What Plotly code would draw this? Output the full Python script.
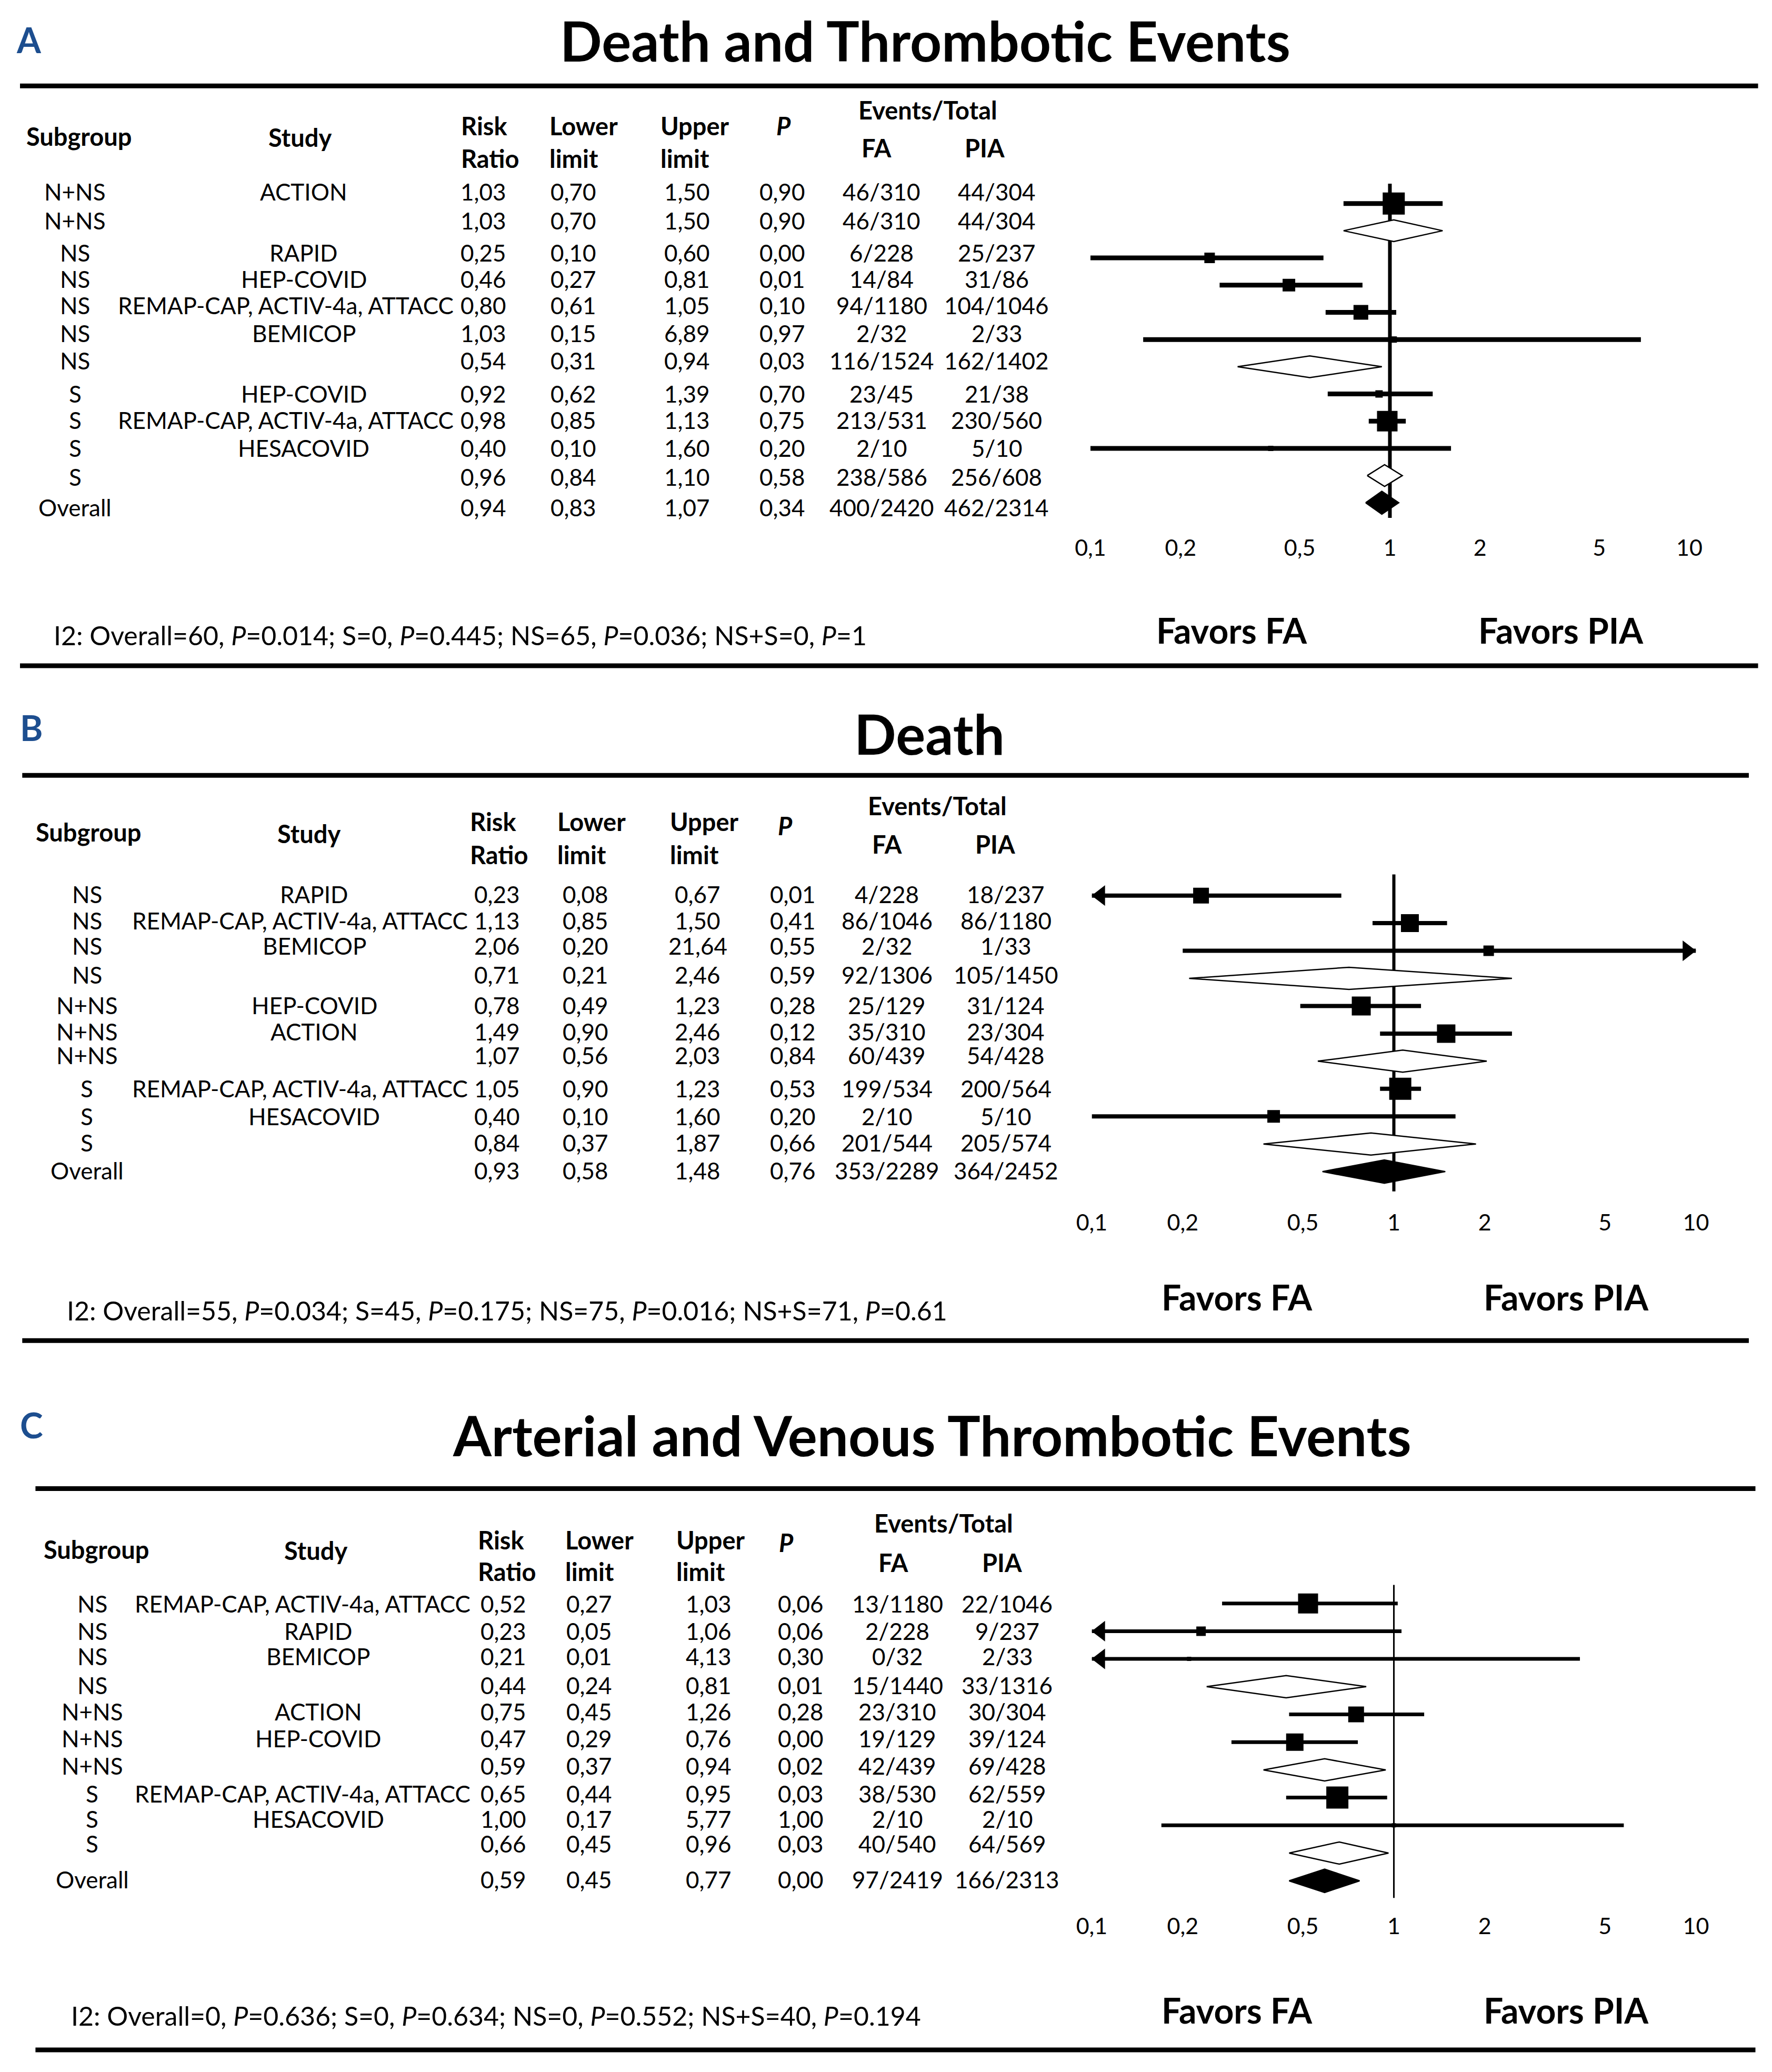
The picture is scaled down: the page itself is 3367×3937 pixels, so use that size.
import plotly.graph_objects as go

# ---------------- data ----------------
# Panel A: Death and Thrombotic Events
a_subgroup = ["N+NS", "N+NS", "NS", "NS", "NS", "NS", "NS", "S", "S", "S", "S", "Overall"]
a_study = ["ACTION", "", "RAPID", "HEP-COVID", "REMAP-CAP, ACTIV-4a, ATTACC", "BEMICOP", "",
           "HEP-COVID", "REMAP-CAP, ACTIV-4a, ATTACC", "HESACOVID", "", ""]
a_rr = [1.03, 1.03, 0.25, 0.46, 0.80, 1.03, 0.54, 0.92, 0.98, 0.40, 0.96, 0.94]
a_lo = [0.70, 0.70, 0.10, 0.27, 0.61, 0.15, 0.31, 0.62, 0.85, 0.10, 0.84, 0.83]
a_hi = [1.50, 1.50, 0.60, 0.81, 1.05, 6.89, 0.94, 1.39, 1.13, 1.60, 1.10, 1.07]
a_p = [0.90, 0.90, 0.00, 0.01, 0.10, 0.97, 0.03, 0.70, 0.75, 0.20, 0.58, 0.34]
a_fa = ["46/310", "46/310", "6/228", "14/84", "94/1180", "2/32", "116/1524", "23/45", "213/531",
        "2/10", "238/586", "400/2420"]
a_pia = ["44/304", "44/304", "25/237", "31/86", "104/1046", "2/33", "162/1402", "21/38", "230/560",
         "5/10", "256/608", "462/2314"]
a_i2 = "I2: Overall=60, <i>P</i>=0.014; S=0, <i>P</i>=0.445; NS=65, <i>P</i>=0.036; NS+S=0, <i>P</i>=1"

# Panel B: Death
b_subgroup = ["NS", "NS", "NS", "NS", "N+NS", "N+NS", "N+NS", "S", "S", "S", "Overall"]
b_study = ["RAPID", "REMAP-CAP, ACTIV-4a, ATTACC", "BEMICOP", "", "HEP-COVID", "ACTION", "",
           "REMAP-CAP, ACTIV-4a, ATTACC", "HESACOVID", "", ""]
b_rr = [0.23, 1.13, 2.06, 0.71, 0.78, 1.49, 1.07, 1.05, 0.40, 0.84, 0.93]
b_lo = [0.08, 0.85, 0.20, 0.21, 0.49, 0.90, 0.56, 0.90, 0.10, 0.37, 0.58]
b_hi = [0.67, 1.50, 21.64, 2.46, 1.23, 2.46, 2.03, 1.23, 1.60, 1.87, 1.48]
b_p = [0.01, 0.41, 0.55, 0.59, 0.28, 0.12, 0.84, 0.53, 0.20, 0.66, 0.76]
b_fa = ["4/228", "86/1046", "2/32", "92/1306", "25/129", "35/310", "60/439", "199/534", "2/10",
        "201/544", "353/2289"]
b_pia = ["18/237", "86/1180", "1/33", "105/1450", "31/124", "23/304", "54/428", "200/564", "5/10",
         "205/574", "364/2452"]
b_i2 = "I2: Overall=55, <i>P</i>=0.034; S=45, <i>P</i>=0.175; NS=75, <i>P</i>=0.016; NS+S=71, <i>P</i>=0.61"

# Panel C: Arterial and Venous Thrombotic Events
c_subgroup = ["NS", "NS", "NS", "NS", "N+NS", "N+NS", "N+NS", "S", "S", "S", "Overall"]
c_study = ["REMAP-CAP, ACTIV-4a, ATTACC", "RAPID", "BEMICOP", "", "ACTION", "HEP-COVID", "",
           "REMAP-CAP, ACTIV-4a, ATTACC", "HESACOVID", "", ""]
c_rr = [0.52, 0.23, 0.21, 0.44, 0.75, 0.47, 0.59, 0.65, 1.00, 0.66, 0.59]
c_lo = [0.27, 0.05, 0.01, 0.24, 0.45, 0.29, 0.37, 0.44, 0.17, 0.45, 0.45]
c_hi = [1.03, 1.06, 4.13, 0.81, 1.26, 0.76, 0.94, 0.95, 5.77, 0.96, 0.77]
c_p = [0.06, 0.06, 0.30, 0.01, 0.28, 0.00, 0.02, 0.03, 1.00, 0.03, 0.00]
c_fa = ["13/1180", "2/228", "0/32", "15/1440", "23/310", "19/129", "42/439", "38/530", "2/10",
        "40/540", "97/2419"]
c_pia = ["22/1046", "9/237", "2/33", "33/1316", "30/304", "39/124", "69/428", "62/559", "2/10",
         "64/569", "166/2313"]
c_i2 = "I2: Overall=0, <i>P</i>=0.636; S=0, <i>P</i>=0.634; NS=0, <i>P</i>=0.552; NS+S=40, <i>P</i>=0.194"

titles = ["Death and Thrombotic Events", "Death", "Arterial and Venous Thrombotic Events"]
letters = ["A", "B", "C"]
tick_vals = [0.1, 0.2, 0.5, 1, 2, 5, 10]
tick_text = ["0,1", "0,2", "0,5", "1", "2", "5", "10"]

# ---------------- style / layout (grid units of a 1344 x 1572 sheet) ----------------
W, H = 3367, 3937
GW, GH = 1344, 1572
FONT = "Lato"
S_BODY, S_HEAD, S_I2, S_TITLE, S_LET, S_FAV, S_TICK = 44, 47, 50, 105, 66, 66, 43
LET_COLOR = "#1d4e8f"
# calibration of the sheet grid onto the rendered page
CX0, CXS, CY0, CYS = 15.3, 0.981, 3.1, 0.998

# square sizes (px) for study rows
a_sq = [42, 0, 20, 24, 28, 12, 0, 14, 39, 10, 0, 0]
b_sq = [30, 34, 20, 0, 36, 35, 0, 42, 24, 0, 0]
c_sq = [38, 18, 8, 0, 30, 33, 0, 42, 8, 0, 0]

panels = [
    dict(sub=a_subgroup, study=a_study, rr=a_rr, lo=a_lo, hi=a_hi, p=a_p, fa=a_fa, pia=a_pia, i2=a_i2, sq=a_sq,
         let=(22, 30), title=(700, 30), rules=(15, 1330, 65, 504),
         h_sub=(60, 103), h_study=(227, 104), h_y=(95, 120), h_left=(348, 415, 499), h_p=(593, 95),
         h_ev=(702, 83), h_fapia=(663, 745, 112),
         cols=(57, 230, 366, 434, 520, 592, 667, 754), long_right=344,
         rows=[145, 167, 191, 211, 231, 252, 273, 298, 318, 339, 361, 384],
         fx=(825, 1278), row0=154, step=20.6, dom=(130, 403), vl=(139, 392), vlw=7, ciw=9,
         fav=(932, 1181, 477), i2pos=(40, 481)),
    dict(sub=b_subgroup, study=b_study, rr=b_rr, lo=b_lo, hi=b_hi, p=b_p, fa=b_fa, pia=b_pia, i2=b_i2, sq=b_sq,
         let=(24, 551), title=(703, 555), rules=(17, 1323, 587, 1015),
         h_sub=(67, 630), h_study=(234, 631), h_y=(622, 647), h_left=(355, 421, 506), h_p=(594, 625),
         h_ev=(709, 610), h_fapia=(671, 753, 639),
         cols=(66, 238, 376, 443, 528, 600, 671, 761), long_right=355,
         rows=[677, 697, 716, 738, 761, 781, 799, 824, 845, 865, 886],
         fx=(826, 1283), row0=678, step=20.9, dom=(655, 914), vl=(662, 902), vlw=6, ciw=8,
         fav=(936, 1185, 982), i2pos=(50, 992)),
    dict(sub=c_subgroup, study=c_study, rr=c_rr, lo=c_lo, hi=c_hi, p=c_p, fa=c_fa, pia=c_pia, i2=c_i2, sq=c_sq,
         let=(24, 1079), title=(705, 1086), rules=(27, 1328, 1127, 1552),
         h_sub=(73, 1173), h_study=(239, 1174), h_y=(1166, 1190), h_left=(361, 427, 511), h_p=(595, 1168),
         h_ev=(714, 1153), h_fapia=(676, 758, 1183),
         cols=(70, 241, 381, 446, 536, 606, 679, 762), long_right=357,
         rows=[1214, 1235, 1254, 1276, 1296, 1316, 1337, 1358, 1377, 1396, 1423],
         fx=(826, 1283), row0=1214, step=21.0, dom=(1195, 1447), vl=(1200, 1437), vlw=3, ciw=7,
         fav=(936, 1185, 1522), i2pos=(53, 1526)),
]


def gx(x):
    return min(max(((x - CX0) / CXS) / GW, 0.0), 1.0)


def gy(y):
    return min(max(1 - ((y - CY0) / CYS) / GH, 0.0), 1.0)


def fmt(v):
    return f"{v:.2f}".replace(".", ",")


annotations = []
shapes = []


def ann(text, x, y, size=S_BODY, xanchor="center", color="black"):
    annotations.append(dict(text=text, x=gx(x), y=gy(y), xref="paper", yref="paper",
                            xanchor=xanchor, yanchor="middle", showarrow=False,
                            font=dict(family=FONT, size=size, color=color)))


fig = go.Figure()
layout_axes = {}

for k, P in enumerate(panels):
    sfx = "" if k == 0 else str(k + 1)
    xa, ya = "x" + sfx, "y" + sfx
    # letter + title
    ann(f"<b>{letters[k]}</b>", *P["let"], size=S_LET, color=LET_COLOR)
    ann(f"<b>{titles[k]}</b>", *P["title"], size=S_TITLE)
    # rules
    x0, x1, yt, yb = P["rules"]
    for yy in (yt, yb):
        shapes.append(dict(type="line", xref="paper", yref="paper", x0=gx(x0), x1=gx(x1),
                           y0=gy(yy), y1=gy(yy), line=dict(color="black", width=9)))
    # headers
    ann("<b>Subgroup</b>", *P["h_sub"], size=S_HEAD)
    ann("<b>Study</b>", *P["h_study"], size=S_HEAD)
    y1, y2 = P["h_y"]
    for (top, bot), xl in zip([("Risk", "Ratio"), ("Lower", "limit"), ("Upper", "limit")], P["h_left"]):
        ann(f"<b>{top}</b>", xl, y1, size=S_HEAD, xanchor="left")
        ann(f"<b>{bot}</b>", xl, y2, size=S_HEAD, xanchor="left")
    ann("<b><i>P</i></b>", *P["h_p"], size=S_HEAD)
    ann("<b>Events/Total</b>", *P["h_ev"], size=S_HEAD)
    fx_, px_, fy_ = P["h_fapia"]
    ann("<b>FA</b>", fx_, fy_, size=S_HEAD)
    ann("<b>PIA</b>", px_, fy_, size=S_HEAD)
    # table body
    cs = P["cols"]
    for i, ry in enumerate(P["rows"]):
        ann(P["sub"][i], cs[0], ry)
        name = P["study"][i]
        if name:
            if len(name) > 15:
                ann(name, P["long_right"], ry, xanchor="right")
            else:
                ann(name, cs[1], ry)
        ann(fmt(P["rr"][i]), cs[2], ry)
        ann(fmt(P["lo"][i]), cs[3], ry)
        ann(fmt(P["hi"][i]), cs[4], ry)
        ann(fmt(P["p"][i]), cs[5], ry)
        ann(P["fa"][i], cs[6], ry)
        ann(P["pia"][i], cs[7], ry)
    # footer
    fa_x, fp_x, fav_y = P["fav"]
    ann("<b>Favors FA</b>", fa_x, fav_y, size=S_FAV)
    ann("<b>Favors PIA</b>", fp_x, fav_y, size=S_FAV)
    ann(P["i2"], P["i2pos"][0], P["i2pos"][1], size=S_I2, xanchor="left")

    # ---- forest plot axes ----
    r0, st = P["row0"], P["step"]
    dt, db = P["dom"]
    yr = [(db - r0) / st, (dt - r0) / st]
    layout_axes["xaxis" + sfx] = dict(type="log", range=[-1, 1], domain=[gx(P["fx"][0]), gx(P["fx"][1])],
                                      anchor=ya, showgrid=False, zeroline=False, showline=False,
                                      ticks="", tickvals=tick_vals, ticktext=tick_text,
                                      tickfont=dict(family=FONT, size=S_TICK, color="black"))
    layout_axes["yaxis" + sfx] = dict(range=yr, domain=[gy(db), gy(dt)], anchor=xa, visible=False)

    # null line
    v0, v1 = P["vl"]
    fig.add_trace(go.Scatter(x=[1, 1], y=[(v0 - r0) / st, (v1 - r0) / st], mode="lines",
                             line=dict(color="black", width=P["vlw"]), xaxis=xa, yaxis=ya,
                             hoverinfo="skip", showlegend=False))
    # arrow offset in log units (tip of the arrow at the axis limit)
    dec_px = (gx(P["fx"][1]) - gx(P["fx"][0])) * W / 2.0
    ARW = 34
    off = (ARW / 2) / dec_px
    n = len(P["rr"])
    for i in range(n):
        rr, lo, hi = P["rr"][i], P["lo"][i], P["hi"][i]
        if P["study"][i]:
            fig.add_trace(go.Scatter(x=[max(lo, 0.1), min(hi, 10)], y=[i, i], mode="lines",
                                     line=dict(color="black", width=P["ciw"]), xaxis=xa, yaxis=ya,
                                     hoverinfo="skip", showlegend=False))
            if P["sq"][i] > 0:
                fig.add_trace(go.Scatter(x=[rr], y=[i], mode="markers",
                                         marker=dict(symbol="square", size=P["sq"][i], color="black",
                                                     line=dict(width=0)),
                                         xaxis=xa, yaxis=ya, hoverinfo="skip", showlegend=False))
            if lo < 0.1:
                fig.add_trace(go.Scatter(x=[0.1 * 10 ** off], y=[i], mode="markers", cliponaxis=False,
                                         marker=dict(symbol="triangle-left", size=ARW, color="black",
                                                     line=dict(width=0)),
                                         xaxis=xa, yaxis=ya, hoverinfo="skip", showlegend=False))
            if hi > 10:
                fig.add_trace(go.Scatter(x=[10 / 10 ** off], y=[i], mode="markers", cliponaxis=False,
                                         marker=dict(symbol="triangle-right", size=ARW, color="black",
                                                     line=dict(width=0)),
                                         xaxis=xa, yaxis=ya, hoverinfo="skip", showlegend=False))
        else:
            overall = P["sub"][i] == "Overall"
            h = 0.42 if overall else 0.4
            fig.add_trace(go.Scatter(x=[lo, rr, hi, rr, lo], y=[i, i - h, i, i + h, i], mode="lines",
                                     fill="toself", fillcolor="black" if overall else "white",
                                     line=dict(color="black", width=2.5), xaxis=xa, yaxis=ya,
                                     hoverinfo="skip", showlegend=False))

fig.update_layout(width=W, height=H, margin=dict(l=0, r=0, t=0, b=0), paper_bgcolor="white",
                  plot_bgcolor="white", showlegend=False, annotations=annotations, shapes=shapes,
                  font=dict(family=FONT, color="black"), **layout_axes)

fig.write_html("out.html")
